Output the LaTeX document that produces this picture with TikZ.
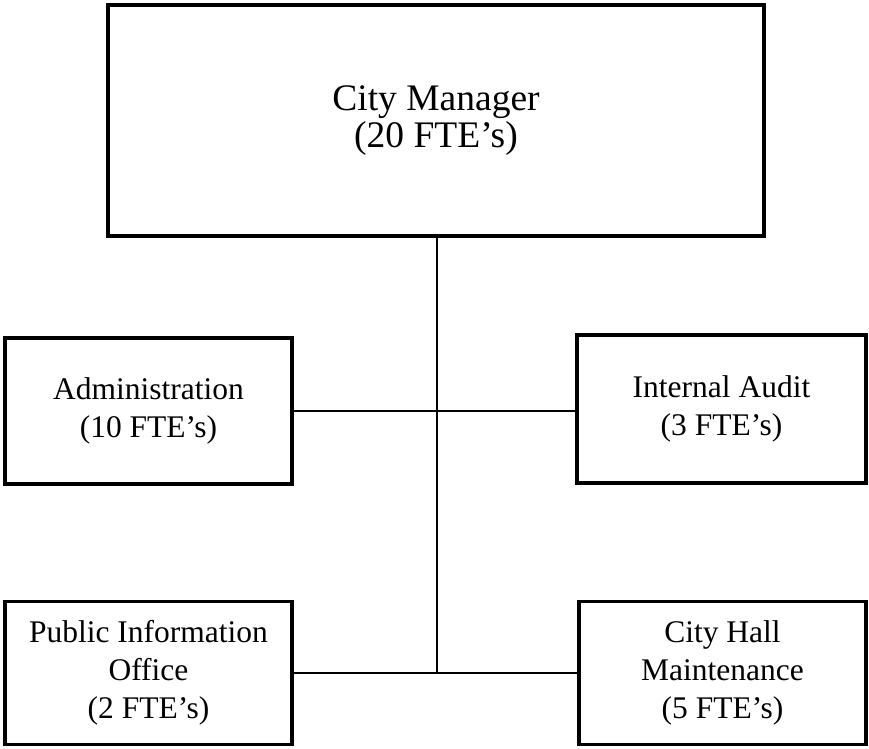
\documentclass[tikz,border=0pt]{standalone}
\usepackage{fontspec}
\setmainfont{Liberation Serif}
\begin{document}
\begin{tikzpicture}[x=1pt,y=-1pt,
  box/.style={draw=black, line width=3.3pt, rectangle, inner sep=0pt, align=center, fill=white},
  bigtext/.style={font=\fontsize{37.5}{37}\selectfont},
  smalltext/.style={font=\fontsize{31.5}{38}\selectfont},
  link/.style={draw=black, line width=2.8pt}]
\useasboundingbox (0,0) rectangle (869,748);
\node[box, bigtext, minimum width=656pt, minimum height=231pt] (cm) at (436,120.5) {City Manager\\(20 FTE’s)};
\node[box, smalltext, minimum width=287pt, minimum height=146pt] (admin) at (148.5,411) {Administration\\(10 FTE’s)};
\node[box, smalltext, minimum width=289pt, minimum height=148pt] (audit) at (721.5,409) {Internal Audit\\(3 FTE’s)};
\node[box, smalltext, minimum width=287pt, minimum height=143pt] (pub) at (148.5,673) {Public Information\\Office\\(2 FTE’s)};
\node[box, smalltext, minimum width=287pt, minimum height=143pt] (hall) at (722.5,673) {City Hall\\Maintenance\\(5 FTE’s)};
\coordinate (j2) at (437,673);
\draw[link] (cm.south -| j2) -- (j2);
\draw[link] (admin.east) -- (admin.east -| audit.west);
\draw[link] (pub.east) -- (hall.west);
\end{tikzpicture}
\end{document}
